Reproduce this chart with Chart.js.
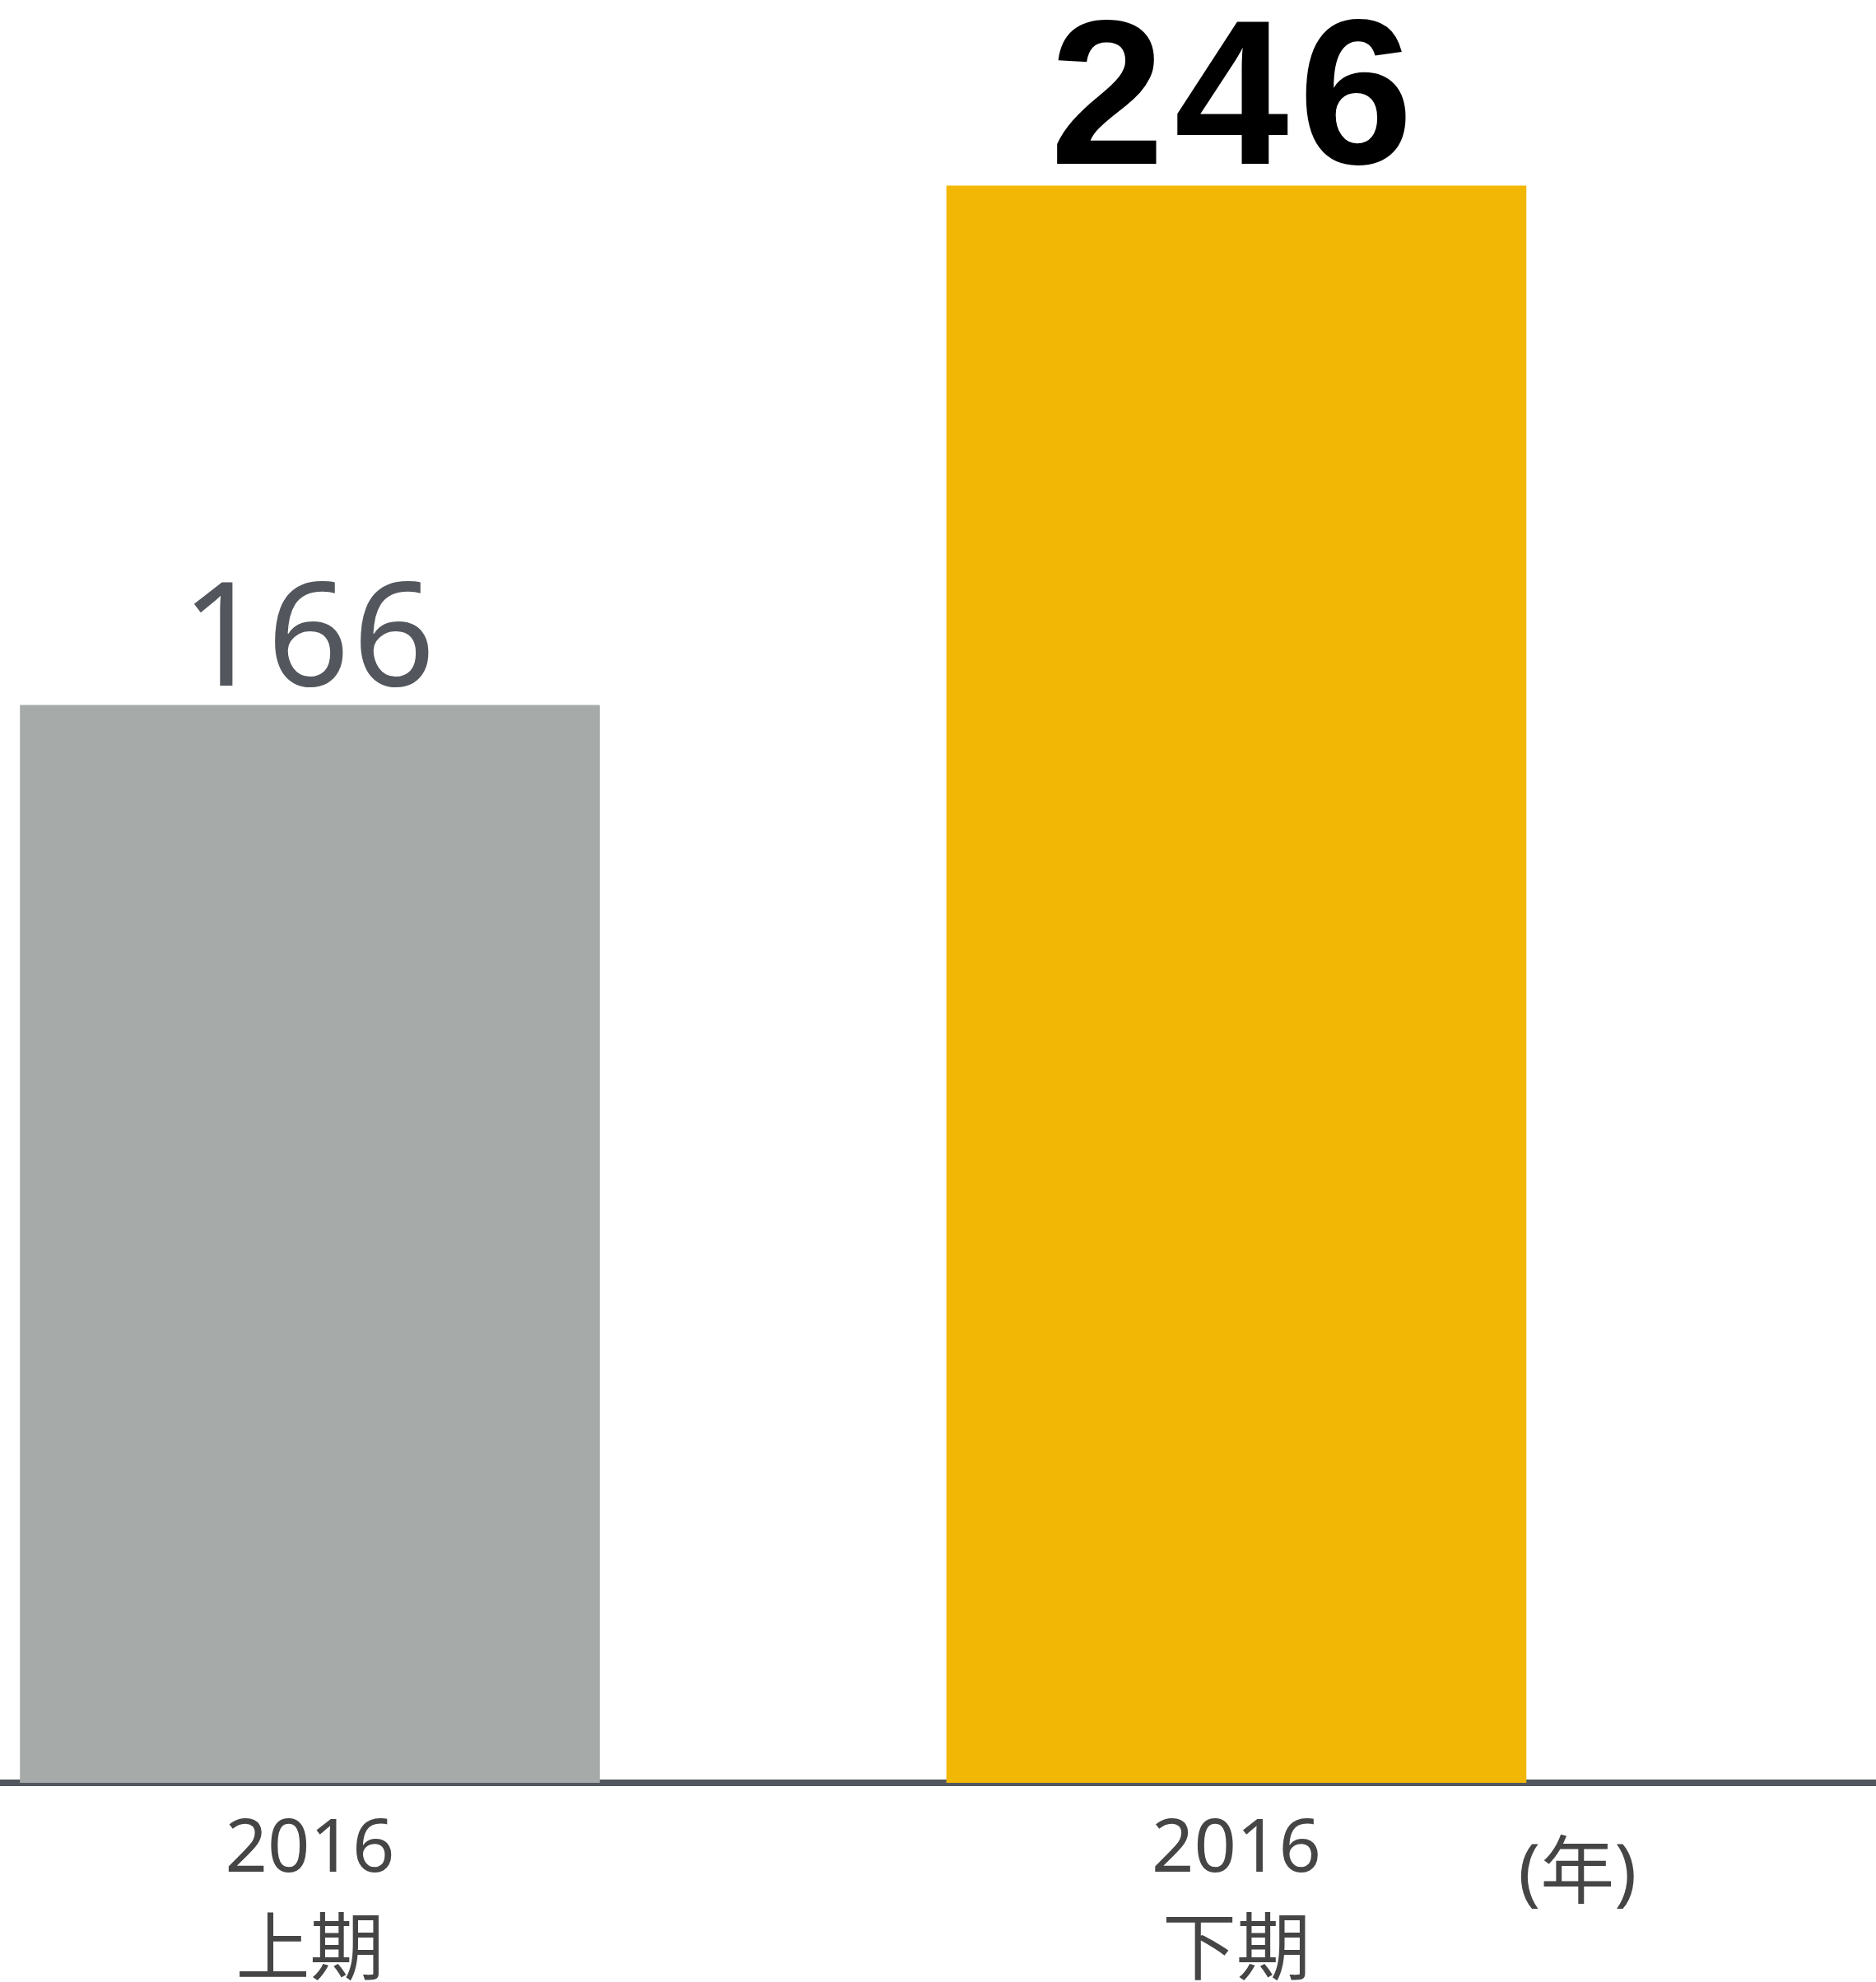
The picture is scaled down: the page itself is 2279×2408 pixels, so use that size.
<!DOCTYPE html>
<html>
<head>
<meta charset="utf-8">
<script src="https://cdn.jsdelivr.net/npm/chart.js@4"></script>
<style>
  html, body { margin: 0; padding: 0; background: #ffffff; }
  #wrap { width: 2279px; height: 2408px; position: relative; }
</style>
</head>
<body>
<div id="wrap"><canvas id="c"></canvas></div>
<script>
// ---- data ----
const categories = [['2016', '上期'], ['2016', '下期']];
const values = [166, 246];
const valueLabels = ['166', '246'];
const unitLabel = '(年)';
const unitPosition = 1.368;   // position along the category axis (data units)

// ---- styles ----
const barColors = ['#a6aaa9', '#f2b705'];
const labelFonts = ['400 175px "Noto Sans"', 'bold 250px "Liberation Sans"'];
const labelSpacing = ['4px', '12px'];
const labelColors = ['#53575d', '#000000'];
const labelGaps = [24, 27];

const points = values.map((v, i) => ({ x: i, y: v }));

const valueLabelPlugin = {
  id: 'valueLabels',
  afterDatasetsDraw(chart) {
    const ctx = chart.ctx;
    const meta = chart.getDatasetMeta(0);
    ctx.save();
    meta.data.forEach((bar, i) => {
      ctx.font = labelFonts[i];
      if ('letterSpacing' in ctx) ctx.letterSpacing = labelSpacing[i];
      ctx.fillStyle = labelColors[i];
      ctx.textAlign = 'center';
      ctx.textBaseline = 'alphabetic';
      ctx.fillText(valueLabels[i], bar.x, bar.y - labelGaps[i]);
    });
    ctx.restore();
  }
};

const unitPlugin = {
  id: 'unitLabel',
  afterDraw(chart) {
    const ctx = chart.ctx;
    const xs = chart.scales.x;
    ctx.save();
    ctx.font = '400 90px "Noto Sans", "Noto Sans CJK JP"';
    ctx.fillStyle = '#454545';
    ctx.textAlign = 'center';
    ctx.textBaseline = 'middle';
    ctx.fillText(unitLabel, xs.getPixelForValue(unitPosition), chart.chartArea.bottom + 113);
    ctx.restore();
  }
};

new Chart(document.getElementById('c'), {
  type: 'bar',
  data: {
    datasets: [{
      data: points,
      backgroundColor: barColors,
      borderWidth: 0,
      categoryPercentage: 1.0,
      barPercentage: 0.626
    }]
  },
  options: {
    responsive: true,
    maintainAspectRatio: false,
    animation: false,
    layout: { padding: 0 },
    plugins: {
      legend: { display: false },
      tooltip: { enabled: false },
      title: { display: false }
    },
    scales: {
      x: {
        type: 'linear',
        offset: false,
        min: -0.3345,
        max: 1.6904,
        z: 1,
        grid: { display: false, drawTicks: false, offset: false },
        border: { display: true, color: '#52575d', width: 8 },
        afterBuildTicks(scale) {
          scale.ticks = categories.map((c, i) => ({ value: i }));
        },
        afterFit(scale) { scale.height = 242; },
        ticks: {
          autoSkip: false,
          maxRotation: 0,
          minRotation: 0,
          padding: 20,
          color: '#454545',
          font: { family: '"Noto Sans", "Noto Sans CJK JP"', size: 90, lineHeight: 1.38 },
          callback: (value) => categories[value]
        }
      },
      y: {
        display: false,
        min: 0,
        max: 274.6
      }
    }
  },
  plugins: [valueLabelPlugin, unitPlugin]
});
</script>
</body>
</html>
